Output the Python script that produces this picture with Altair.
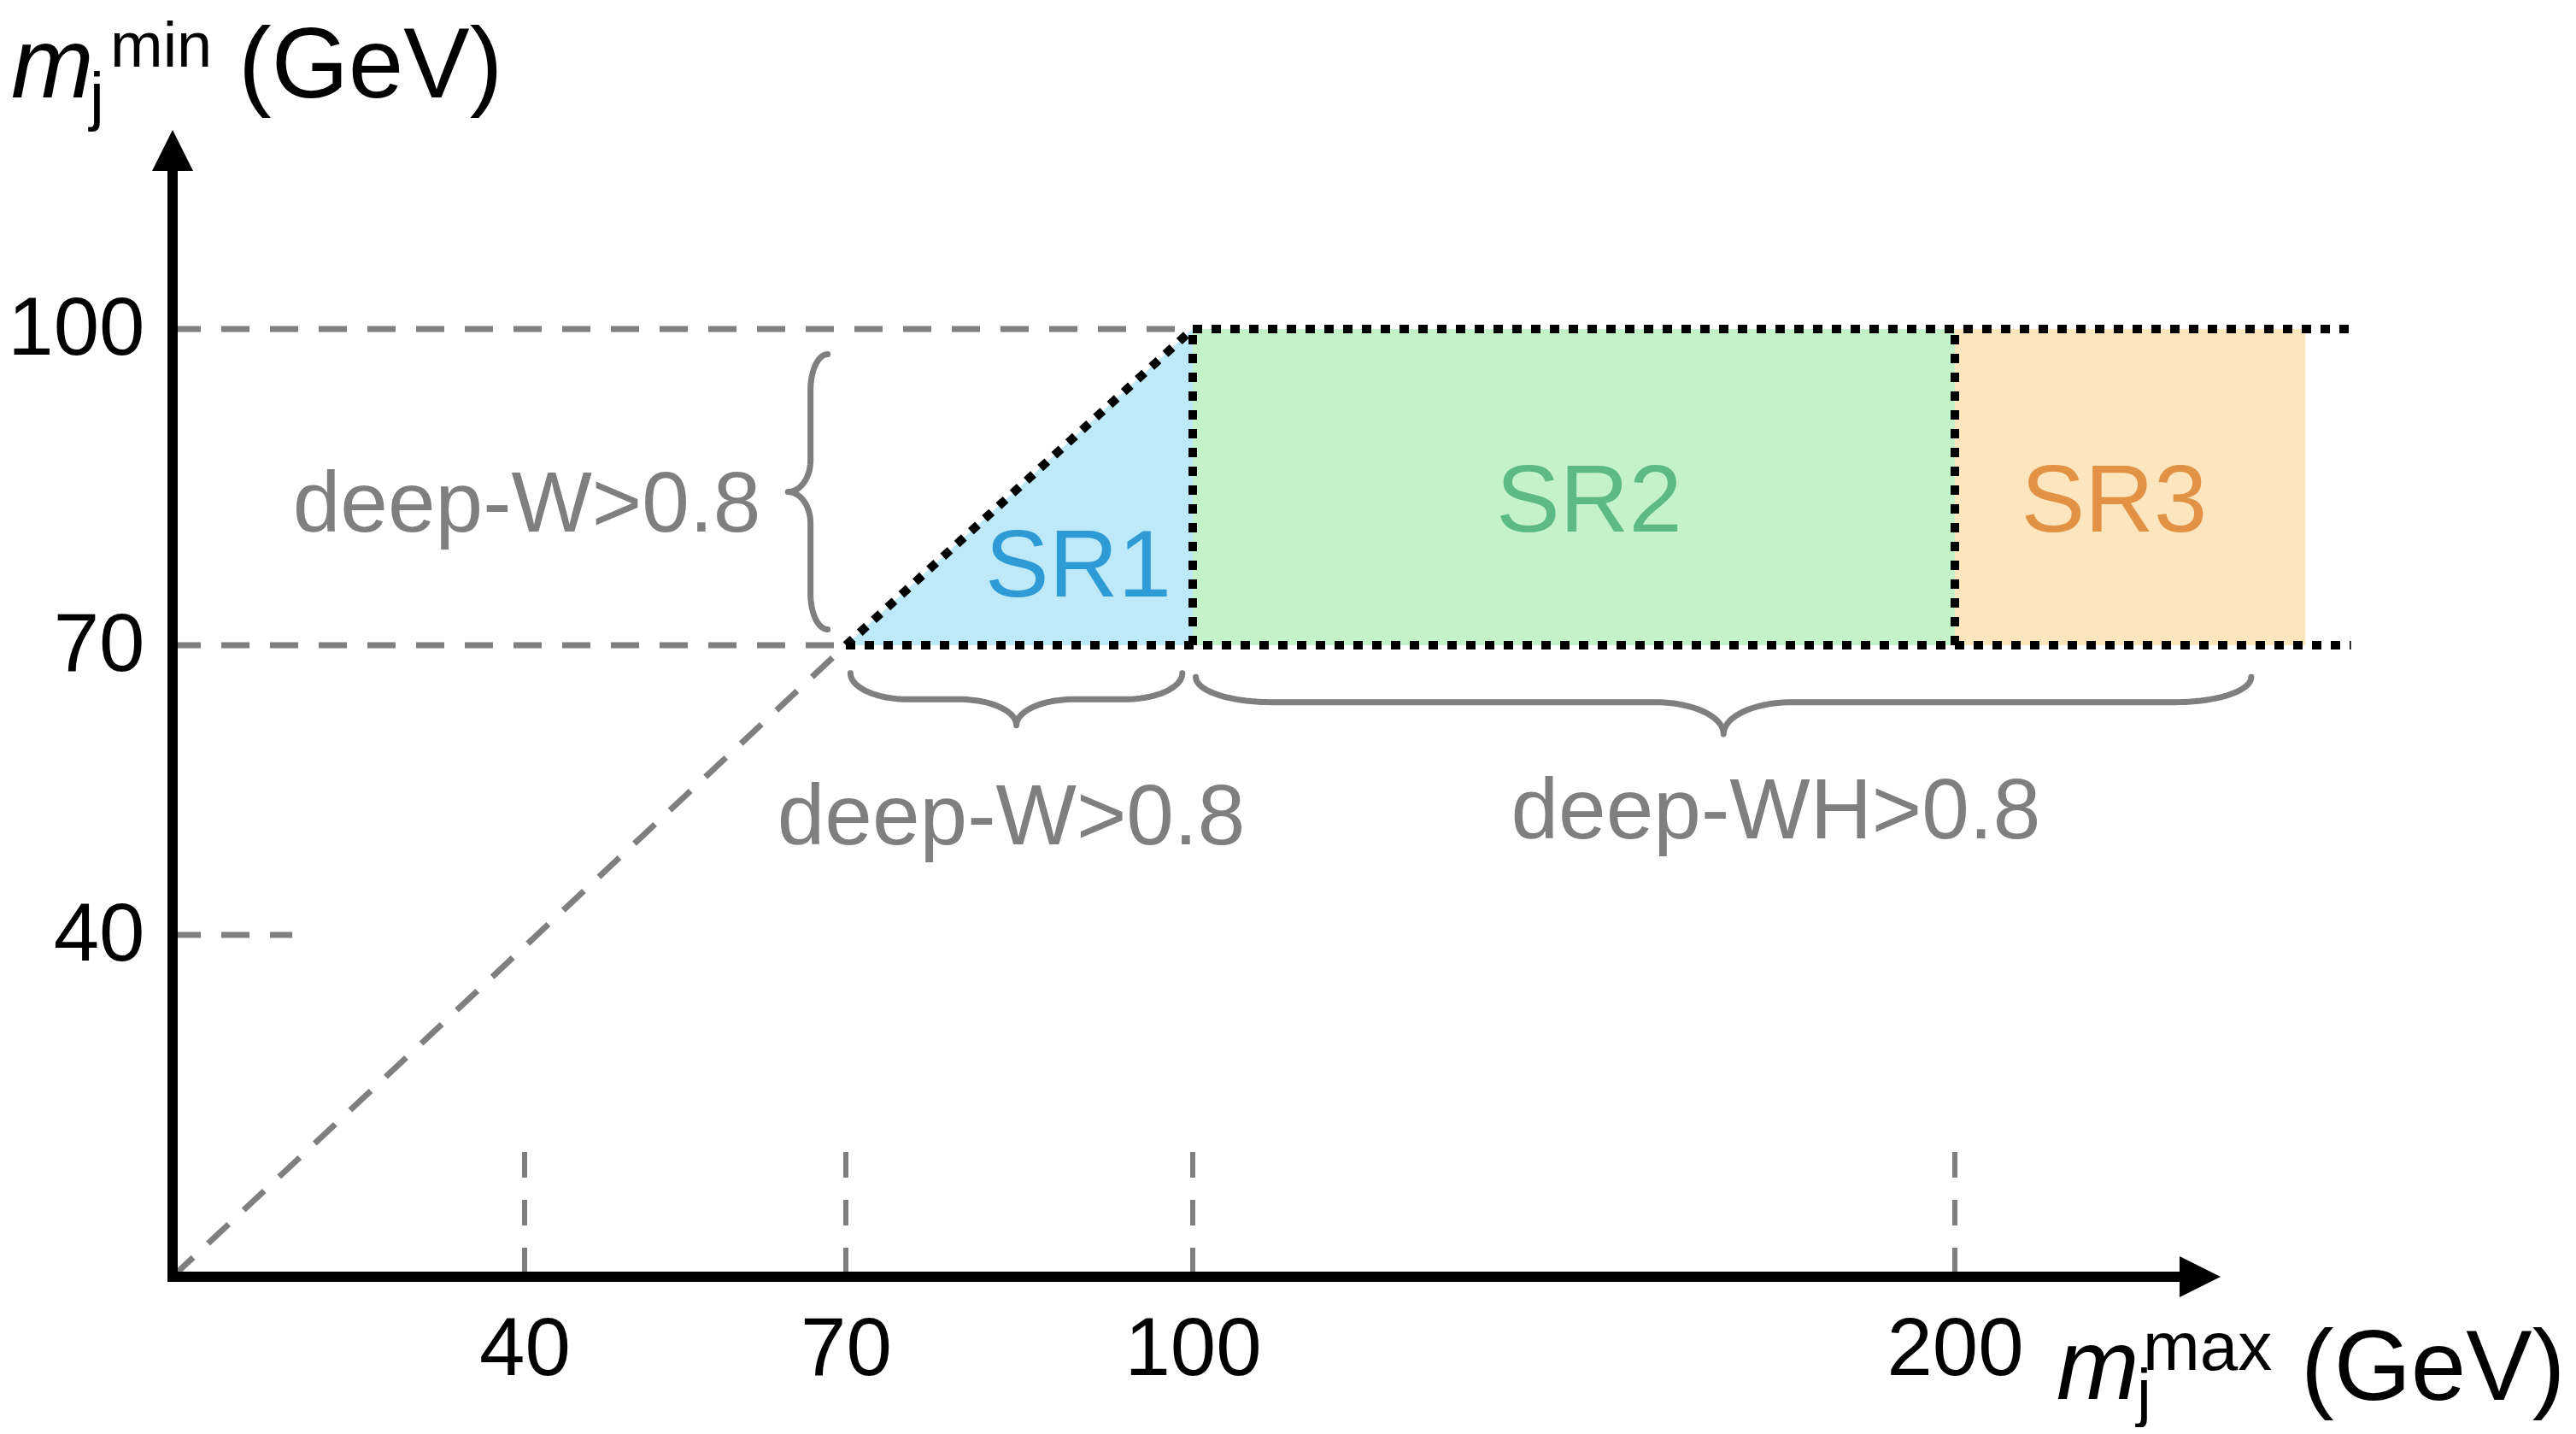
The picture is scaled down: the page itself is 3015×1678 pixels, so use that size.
import altair as alt
import numpy as np
import pandas as pd

FONT = "Liberation Sans"
GRAY = "#7f7f7f"

# ---------------- data (schematic values) ----------------
X_TICKS = [40, 70, 100, 200]
Y_TICKS = [40, 70, 100]

# schematic (non-uniform) axis anchors
X_ANCHORS = [0, 40, 70, 100, 200, 260]
Y_ANCHORS = [0, 40, 70, 100, 130]

REGION_NAMES = ["SR1", "SR2", "SR3"]
REGION_FILLS = ["#bde9f8", "#c4f3c9", "#fde6bd"]
REGION_TEXT_COLORS = ["#2e9bd6", "#5dba84", "#e19245"]
SR1_X = [70, 100]
SR1_Y = [70, 100]
RECT_X_LO = [100, 200]
RECT_X_HI = [200, 246]
RECT_Y_LO = [70, 70]
RECT_Y_HI = [100, 100]
REGION_LABEL_X = [90.1, 152.0, 220.9]
REGION_LABEL_Y = [74.6, 80.8, 80.8]

# gray dashed guide lines
GUIDE_X = [0, 0, 0, 0]
GUIDE_Y = [100, 70, 40, 0]
GUIDE_X2 = [100, 70, 13.6, 70]
GUIDE_Y2 = [100, 70, 40, 70]
TICK_GUIDE_TOP = 14.6

# black dotted region boundaries
BOUND_X = [70, 100, 100, 70, 200]
BOUND_Y = [70, 70, 100, 70, 70]
BOUND_X2 = [100, 100, 252, 252, 200]
BOUND_Y2 = [100, 100, 100, 70, 100]

# braces: (orientation, start, end, end level, band level, tip level, end radius, mid radius)
BRACE_ORIENT = ["v", "h", "h"]
BRACE_START = [71.5, 70.4, 100.4]
BRACE_END = [97.6, 99.1, 238.9]
BRACE_LEVEL_END = [68.3, 67.1, 66.7]
BRACE_LEVEL_BAND = [66.7, 64.4, 64.1]
BRACE_LEVEL_TIP = [64.6, 61.7, 60.8]
BRACE_R_END = [3.4, 5.0, 10.0]
BRACE_R_MID = [3.0, 5.0, 9.0]

CUT_LABELS = ["deep-W>0.8", "deep-W>0.8", "deep-WH>0.8"]
CUT_LABEL_X = [40.2, 84.3, 176.5]
CUT_LABEL_Y = [80.8, 49.4, 50.0]

# ---------------- scales / helpers ----------------
W, H = 2397, 1342
xs = alt.Scale(domain=X_ANCHORS, range=[0, 412, 788, 1194, 2086, 2621], nice=False, zero=False)
ys = alt.Scale(domain=Y_ANCHORS, range=[1342, 942, 603, 233, -137], nice=False, zero=False)

xaxis = alt.Axis(values=X_TICKS, domain=False, ticks=False, tickSize=0, grid=False, title=None,
                 labelFont=FONT, labelFontSize=96, labelColor="black", labelPadding=114,
                 labelBaseline="alphabetic", labelAlign="center", labelFlush=False,
                 labelOverlap=False)
yaxis = alt.Axis(values=Y_TICKS, domain=False, ticks=False, tickSize=0, grid=False, title=None,
                 labelFont=FONT, labelFontSize=96, labelColor="black", labelPadding=33,
                 labelBaseline="middle", labelFlush=False, labelOverlap=False)


def X(f):
    return alt.X(f, type="quantitative", scale=xs, axis=xaxis)


def Y(f):
    return alt.Y(f, type="quantitative", scale=ys, axis=yaxis)


def brace_points(x0, x1, ytop, yband, ytip, r_end, r_mid, n=24):
    xm = (x0 + x1) / 2.0
    ry1 = ytop - yband
    ry2 = yband - ytip
    pts = []
    for t in np.linspace(np.pi, 1.5 * np.pi, n):
        pts.append((x0 + r_end + r_end * np.cos(t), ytop + ry1 * np.sin(t)))
    for t in np.linspace(0.5 * np.pi, 0.0, n):
        pts.append((xm - r_mid + r_mid * np.cos(t), ytip + ry2 * np.sin(t)))
    for t in np.linspace(np.pi, 0.5 * np.pi, n):
        pts.append((xm + r_mid + r_mid * np.cos(t), ytip + ry2 * np.sin(t)))
    for t in np.linspace(1.5 * np.pi, 2 * np.pi, n):
        pts.append((x1 - r_end + r_end * np.cos(t), ytop + ry1 * np.sin(t)))
    return pts


rows = []
for b in range(len(BRACE_ORIENT)):
    pts = brace_points(BRACE_START[b], BRACE_END[b], BRACE_LEVEL_END[b], BRACE_LEVEL_BAND[b],
                       BRACE_LEVEL_TIP[b], BRACE_R_END[b], BRACE_R_MID[b])
    for i, (u, v) in enumerate(pts):
        if BRACE_ORIENT[b] == "h":
            rows.append({"bid": b, "i": i, "bx": u, "by": v})
        else:
            rows.append({"bid": b, "i": i, "bx": v, "by": u})
brace_df = pd.DataFrame(rows)

# ---------------- layers ----------------
layers = []

layers.append(alt.Chart(pd.DataFrame({"x": SR1_X, "y": SR1_Y, "y2": [70, 70]})).mark_area(
    color=REGION_FILLS[0], opacity=1).encode(x=X("x"), y=Y("y"), y2="y2"))

for k in range(len(RECT_X_LO)):
    layers.append(alt.Chart(pd.DataFrame({"x": [RECT_X_LO[k]], "x2": [RECT_X_HI[k]],
                                          "y": [RECT_Y_LO[k]], "y2": [RECT_Y_HI[k]]})).mark_rect(
        color=REGION_FILLS[k + 1], opacity=1).encode(x=X("x"), x2="x2", y=Y("y"), y2="y2"))

layers.append(alt.Chart(pd.DataFrame({"x": GUIDE_X, "y": GUIDE_Y, "x2": GUIDE_X2, "y2": GUIDE_Y2})).mark_rule(
    color=GRAY, strokeWidth=7, strokeDash=[33, 24], strokeCap="butt").encode(
    x=X("x"), y=Y("y"), x2="x2", y2="y2"))

layers.append(alt.Chart(pd.DataFrame({"x": X_TICKS, "y": [TICK_GUIDE_TOP] * len(X_TICKS),
                                      "y2": [0] * len(X_TICKS)})).mark_rule(
    color=GRAY, strokeWidth=6, strokeDash=[30, 26], strokeCap="butt").encode(
    x=X("x"), y=Y("y"), y2="y2"))

layers.append(alt.Chart(pd.DataFrame({"x": BOUND_X, "y": BOUND_Y, "x2": BOUND_X2, "y2": BOUND_Y2})).mark_rule(
    color="black", strokeWidth=10, strokeDash=[11, 11], strokeCap="butt").encode(
    x=X("x"), y=Y("y"), x2="x2", y2="y2"))

layers.append(alt.Chart(brace_df).mark_line(color=GRAY, strokeWidth=7, strokeCap="round",
                                            strokeJoin="round").encode(
    x=X("bx"), y=Y("by"), detail="bid:N", order="i:Q"))

# axes drawn as arrows
one = pd.DataFrame({"a": [0]})
layers.append(alt.Chart(one).mark_rule(color="black", strokeWidth=12, strokeCap="square").encode(
    x=alt.value(0), x2=alt.value(W - 48), y=alt.value(H)))
layers.append(alt.Chart(one).mark_rule(color="black", strokeWidth=12, strokeCap="square").encode(
    x=alt.value(0), y=alt.value(48), y2=alt.value(H)))
layers.append(alt.Chart(one).mark_point(
    shape="M0,-1L1,1L-1,1Z", size=2304, filled=True, color="black", opacity=1).encode(
    x=alt.value(0), y=alt.value(24)))
layers.append(alt.Chart(one).mark_point(
    shape="M1,0L-1,-1L-1,1Z", size=2304, filled=True, color="black", opacity=1).encode(
    x=alt.value(W - 24), y=alt.value(H)))

# invisible carrier so the real axes print their tick labels
layers.append(alt.Chart(pd.DataFrame({"x": X_TICKS[:3], "y": Y_TICKS})).mark_point(opacity=0).encode(
    x=X("x"), y=Y("y")))

for k in range(len(REGION_NAMES)):
    layers.append(alt.Chart(pd.DataFrame({"name": [REGION_NAMES[k]], "x": [REGION_LABEL_X[k]],
                                          "y": [REGION_LABEL_Y[k]]})).mark_text(
        font=FONT, fontSize=112, align="center", baseline="alphabetic",
        color=REGION_TEXT_COLORS[k]).encode(x=X("x"), y=Y("y"), text="name:N"))

layers.append(alt.Chart(pd.DataFrame({"t": CUT_LABELS, "x": CUT_LABEL_X, "y": CUT_LABEL_Y})).mark_text(
    font=FONT, fontSize=100, align="center", baseline="alphabetic", color=GRAY).encode(
    x=X("x"), y=Y("y"), text="t:N"))


def piece(text, px, py, size, italic=False):
    return alt.Chart(pd.DataFrame({"t": [text]})).mark_text(
        font=FONT, fontSize=size, align="left", baseline="alphabetic", color="black",
        fontStyle="italic" if italic else "normal").encode(
        x=alt.value(px), y=alt.value(py), text="t:N")


layers += [piece("m", -189, -38, 116, True), piece("j", -97, -14, 76),
           piece("min", -73, -74, 74), piece("(GeV)", 77, -38, 116)]
layers += [piece("m", 2205, 1485, 116, True), piece("j", 2299, 1503, 76),
           piece("max", 2306, 1451, 80), piece("(GeV)", 2491, 1486, 116)]

chart = alt.layer(*layers).properties(
    width=W, height=H,
    padding={"left": 194, "top": 144, "right": 408, "bottom": 176},
    autosize=alt.AutoSizeParams(type="none"),
    background="white",
).configure_view(stroke=None)

chart.save("out.html", embed_options={"renderer": "svg", "actions": False})
